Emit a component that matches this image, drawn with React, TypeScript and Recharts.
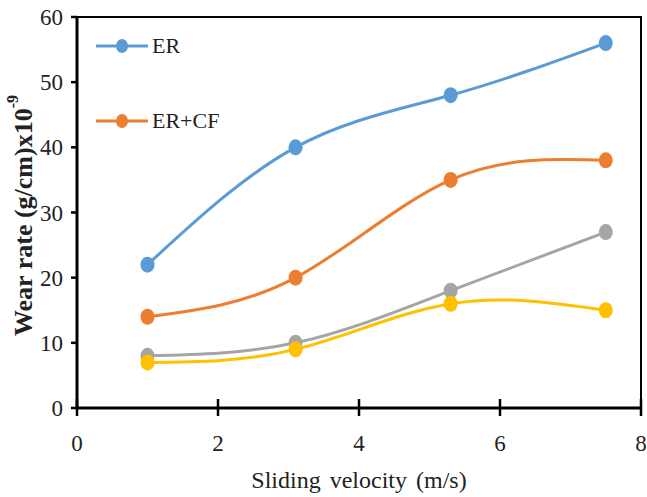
import React from 'react';
import {
  LineChart,
  Line,
  XAxis,
  YAxis,
  ReferenceArea,
  Legend,
} from 'recharts';

const velocity = [1, 3.1, 5.3, 7.5];
const erValues = [22, 40, 48, 56];
const erCfValues = [14, 20, 35, 38];
const grayValues = [8, 10, 18, 27];
const yellowValues = [7, 9, 16, 15];
const xTicks = [0, 2, 4, 6, 8];
const yTicks = [0, 10, 20, 30, 40, 50, 60];

const data = velocity.map((v, i) => ({
  v,
  er: erValues[i],
  erCf: erCfValues[i],
  gray: grayValues[i],
  yellow: yellowValues[i],
}));

const FONT = '"Liberation Serif", "Times New Roman", serif';

const XTick = (props: any) => {
  const { x, y, payload } = props;
  return (
    <g>
      <line x1={x} x2={x} y1={y - 17} y2={y - 8} stroke="#000" strokeWidth={2.5} />
      <text x={x} y={y + 35} textAnchor="middle" fontSize={23} fontFamily={FONT} fill="#222">
        {payload.value}
      </text>
    </g>
  );
};

const YLabel = (props: any) => {
  const { viewBox } = props;
  const cx = viewBox.x + 6;
  const cy = viewBox.y + viewBox.height / 2 + 3;
  return (
    <text
      x={cx}
      y={cy}
      transform={`rotate(-90, ${cx}, ${cy})`}
      textAnchor="middle"
      dominantBaseline="central"
      fontSize={26}
      fontWeight="bold"
      fontFamily={FONT}
      fill="#222"
    >
      Wear rate (g/cm)x10
      <tspan fontSize={16} dy={-11}>-9</tspan>
    </text>
  );
};

const LegendBox = (props: any) => {
  const items = (props.payload || []).filter((p: any) => p.type !== 'none');
  return (
    <div>
      {items.map((p: any) => (
        <div key={p.value} style={{ display: 'flex', alignItems: 'center', height: 75 }}>
          <svg width={56} height={16}>
            <line x1={2} x2={54} y1={8} y2={8} stroke={p.color} strokeWidth={3} />
            <ellipse cx={28} cy={8} rx={6} ry={7} fill={p.color} />
          </svg>
          <span style={{ fontFamily: FONT, fontSize: 22, color: '#222', marginLeft: 2 }}>{p.value}</span>
        </div>
      ))}
    </div>
  );
};

const Dot = (color: string) => (props: any) => (
  <ellipse key={props.index} cx={props.cx} cy={props.cy} rx={7} ry={8} fill={color} />
);

export default function App() {
  return (
    <div style={{ width: 647, height: 497, background: '#fff' }}>
      <style>{`body{margin:0}`}</style>
      <LineChart
        width={647}
        height={497}
        data={data}
        margin={{ top: 17, right: 6, left: 17, bottom: 0 }}
      >
        <ReferenceArea x1={0} x2={8} y1={0} y2={60} stroke="#000" strokeWidth={2} fill="none" fillOpacity={0} />
        <XAxis
          dataKey="v"
          type="number"
          domain={[0, 8]}
          ticks={xTicks}
          height={89}
          axisLine={{ stroke: '#000', strokeWidth: 3 }}
          tickLine={{ stroke: '#000', strokeWidth: 2.5 }}
          tickSize={8}
          tickMargin={0}
          tick={<XTick />}
          label={{
            value: 'Sliding velocity (m/s)',
            position: 'insideBottom',
            offset: 9,
            fontSize: 24,
            fontFamily: FONT,
            fill: '#222',
            wordSpacing: 3,
          }}
        />
        <YAxis
          type="number"
          domain={[0, 60]}
          ticks={yTicks}
          width={60}
          axisLine={{ stroke: '#000', strokeWidth: 3 }}
          tickLine={{ stroke: '#000', strokeWidth: 2.5 }}
          tickSize={6}
          tickMargin={8}
          tick={{ fontSize: 23, fontFamily: FONT, fill: '#222' }}
          label={<YLabel />}
        />
        <Legend
          layout="vertical"
          verticalAlign="middle"
          align="center"
          content={<LegendBox />}
          wrapperStyle={{ top: 8, left: 94, width: 160 }}
        />
        <Line type="natural" dataKey="er" name="ER" stroke="#5B9BD5" strokeWidth={3} dot={Dot('#5B9BD5')} isAnimationActive={false} />
        <Line type="natural" dataKey="erCf" name="ER+CF" stroke="#ED7D31" strokeWidth={3} dot={Dot('#ED7D31')} isAnimationActive={false} />
        <Line type="natural" dataKey="gray" name="gray" legendType="none" stroke="#A5A5A5" strokeWidth={3} dot={Dot('#A5A5A5')} isAnimationActive={false} />
        <Line type="natural" dataKey="yellow" name="yellow" legendType="none" stroke="#FFC000" strokeWidth={3} dot={Dot('#FFC000')} isAnimationActive={false} />
      </LineChart>
    </div>
  );
}
